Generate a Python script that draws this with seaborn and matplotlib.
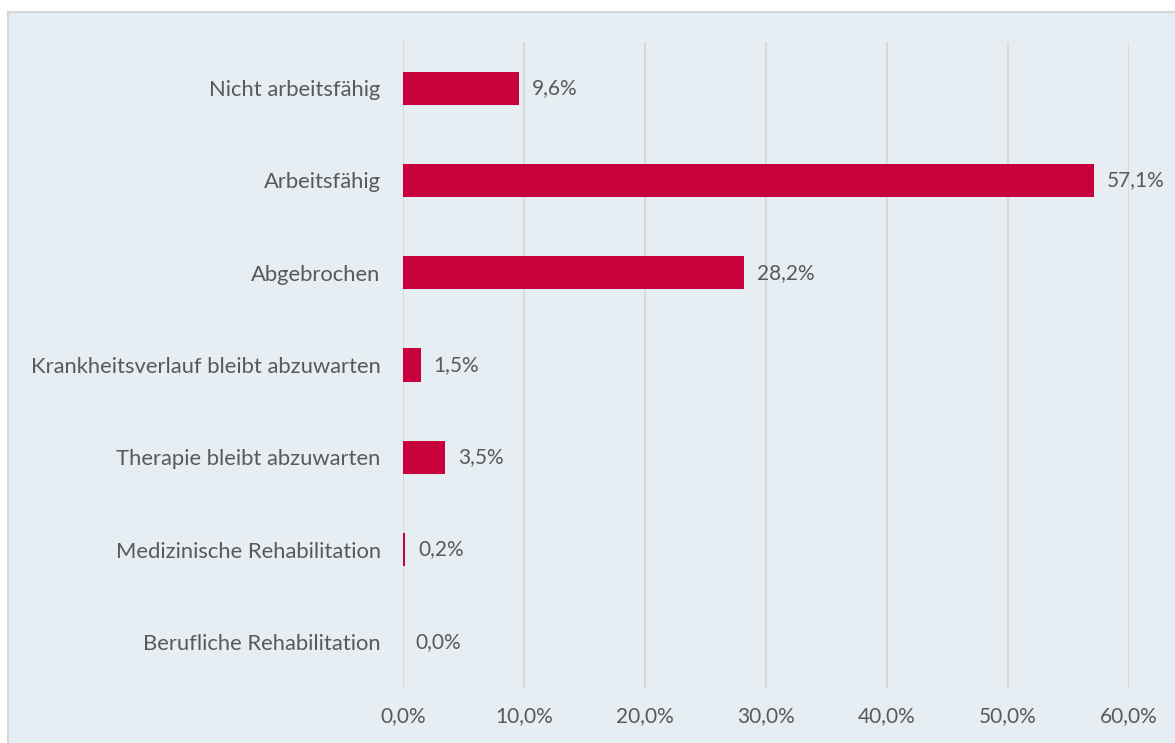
import matplotlib
matplotlib.use("Agg")
import matplotlib.pyplot as plt
import seaborn as sns
import pandas as pd
from matplotlib.patches import Rectangle

categories = [
    "Nicht arbeitsfähig",
    "Arbeitsfähig",
    "Abgebrochen",
    "Krankheitsverlauf bleibt abzuwarten",
    "Therapie bleibt abzuwarten",
    "Medizinische Rehabilitation",
    "Berufliche Rehabilitation",
]
values = [9.6, 57.1, 28.2, 1.5, 3.5, 0.2, 0.0]
ticks = [0, 10, 20, 30, 40, 50, 60]

bg = "#E6EEF3"
bar_color = "#C8003C"
text_color = "#595959"

sns.set_theme(style="white")
plt.rcParams["font.family"] = ["Lato", "DejaVu Sans"]

df = pd.DataFrame({"cat": categories, "val": values})

fig = plt.figure(figsize=(11.75, 7.43), dpi=100)
fig.patch.set_facecolor("white")
fig.patches.append(Rectangle((8 / 1175, -0.1), 1.2, 1 - 12 / 743 + 0.1,
                             transform=fig.transFigure, facecolor=bg,
                             edgecolor="#D6D6D6", linewidth=1.5, zorder=-10))
ax = fig.add_axes([403 / 1175, 1 - 688 / 743, 726 / 1175, 646 / 743])
ax.set_facecolor("none")

sns.barplot(data=df, x="val", y="cat", color=bar_color, width=0.36,
            saturation=1, linewidth=0, ax=ax, zorder=3)

fs = 15
ax.set_xlim(0, 60)
ax.set_ylim(6.5, -0.5)
ax.set_xticks(ticks)
ax.set_xticklabels([f"{t},0%" for t in ticks], fontsize=fs, color=text_color)
ax.tick_params(axis="y", labelsize=15.8, labelcolor=text_color, pad=16, length=0)
ax.tick_params(axis="x", pad=13, length=0)
ax.xaxis.grid(True, color="#D9D9D9", linewidth=1.5, zorder=0)
ax.set_xlabel("")
ax.set_ylabel("")
for s in ax.spines.values():
    s.set_visible(False)

for i, v in enumerate(values):
    ax.annotate(f"{v:.1f}%".replace(".", ","), (v, i), xytext=(9, 0),
                textcoords="offset points", va="center", ha="left",
                fontsize=fs, color=text_color)

fig.savefig("out.png", dpi=100, facecolor="white")
